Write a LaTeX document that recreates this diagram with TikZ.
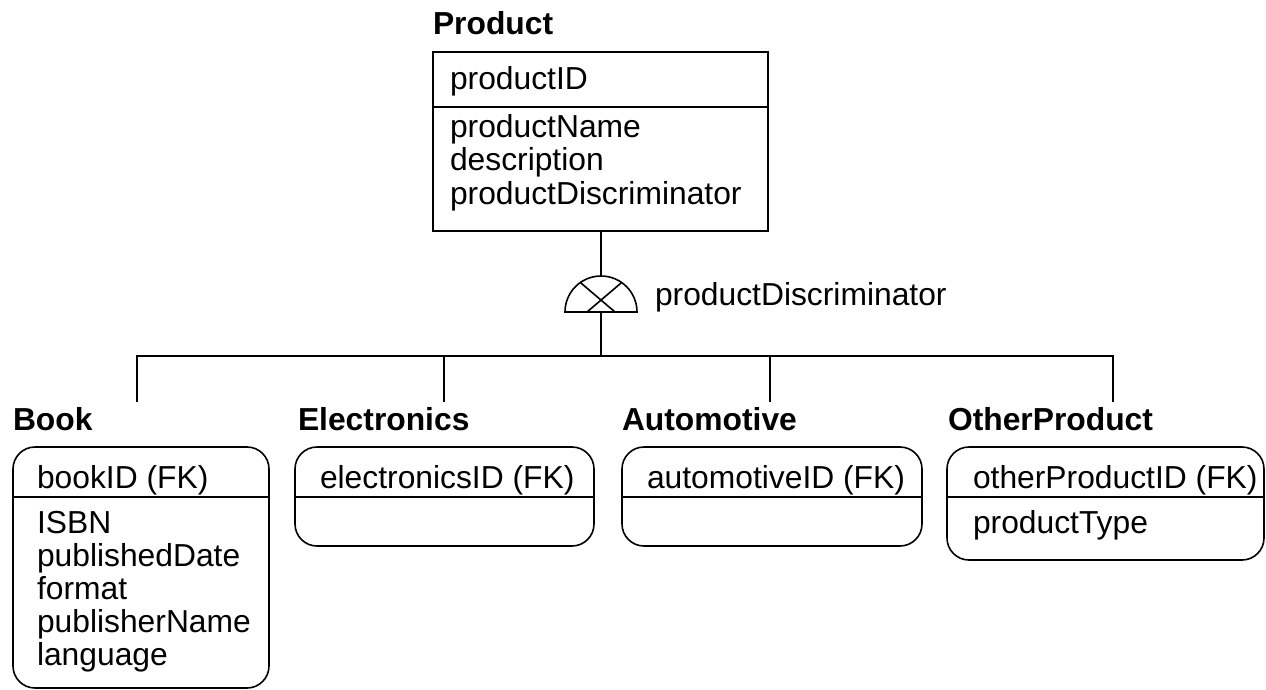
\documentclass[tikz,border=0pt]{standalone}
\usepackage{fontspec}
\setmainfont{Liberation Sans}
\usetikzlibrary{calc}
\begin{document}
\begin{tikzpicture}[x=1pt,y=-1pt,
  every node/.style={font=\fontsize{31.8}{33}\selectfont, inner sep=0pt, outer sep=0pt},
  lbl/.style={anchor=base west},
  ttl/.style={anchor=base west, font=\fontsize{31.8}{33}\selectfont\bfseries},
  sqbox/.style={draw, line width=1.6pt, anchor=north west},
  rdbox/.style={draw, line width=1.6pt, rounded corners=22pt, anchor=north west},
  ln/.style={line width=1.6pt}]
\useasboundingbox (0,0) rectangle (1266,690);

% Product
\node[ttl] (tprod) at (433,35) {Product};
\node[sqbox, minimum width=335pt, minimum height=179pt] (prod) at (433,52) {};
\draw[ln] (433,107) -- (768,107);
\node[lbl] (p1) at (450,90) {productID};
\node[lbl] (p2) at (450,138) {productName};
\node[lbl] (p3) at (450,171) {description};
\node[lbl] (p4) at (450,204) {productDiscriminator};

% discriminator symbol
\coordinate (disc) at (601,312);
\coordinate (disctop) at (601,276);
\draw[ln] (565,312) arc[start angle=180, end angle=360, radius=36] -- cycle;
\draw[ln] (587,312) -- ($(601,312)+(-55:36)$);
\draw[ln] (615,312) -- ($(601,312)+(-125:36)$);
\node[lbl] (dlbl) at (655,305) {productDiscriminator};
\draw[ln] (prod.south -| disctop) -- (disctop);

\coordinate (j) at (601,356);
\coordinate (d1) at (137,402);
\coordinate (d2) at (444,402);
\coordinate (d3) at (770,402);
\coordinate (d4) at (1113,402);
\draw[ln] (disc) -- (j);
\draw[ln] (d1) |- (j) -| (d4);
\draw[ln] (d2) -- (d2 |- j);
\draw[ln] (d3) -- (d3 |- j);

% Book
\node[ttl] (tbook) at (13,430) {Book};
\node[rdbox, minimum width=256pt, minimum height=241pt] (book) at (13,447) {};
\draw[ln] (13,497) -- (269,497);
\node[lbl] (b1) at (37,488) {bookID (FK)};
\node[lbl] (b2) at (37,533) {ISBN};
\node[lbl] (b3) at (37,566) {publishedDate};
\node[lbl] (b4) at (37,599) {format};
\node[lbl] (b5) at (37,632) {publisherName};
\node[lbl] (b6) at (37,665) {language};

% Electronics
\node[ttl] (telec) at (298,430) {Electronics};
\node[rdbox, minimum width=299pt, minimum height=99pt] (elec) at (295,447) {};
\draw[ln] (295,497) -- (594,497);
\node[lbl] (e1) at (320,488) {electronicsID (FK)};

% Automotive
\node[ttl] (tauto) at (622,430) {Automotive};
\node[rdbox, minimum width=300pt, minimum height=99pt] (auto) at (622,447) {};
\draw[ln] (622,497) -- (922,497);
\node[lbl] (a1) at (647,488) {automotiveID (FK)};

% OtherProduct
\node[ttl] (tother) at (948,430) {OtherProduct};
\node[rdbox, minimum width=317pt, minimum height=113pt] (other) at (947,447) {};
\draw[ln] (947,497) -- (1264,497);
\node[lbl] (o1) at (973,488) {otherProductID (FK)};
\node[lbl] (o2) at (973,533) {productType};
\end{tikzpicture}
\end{document}
